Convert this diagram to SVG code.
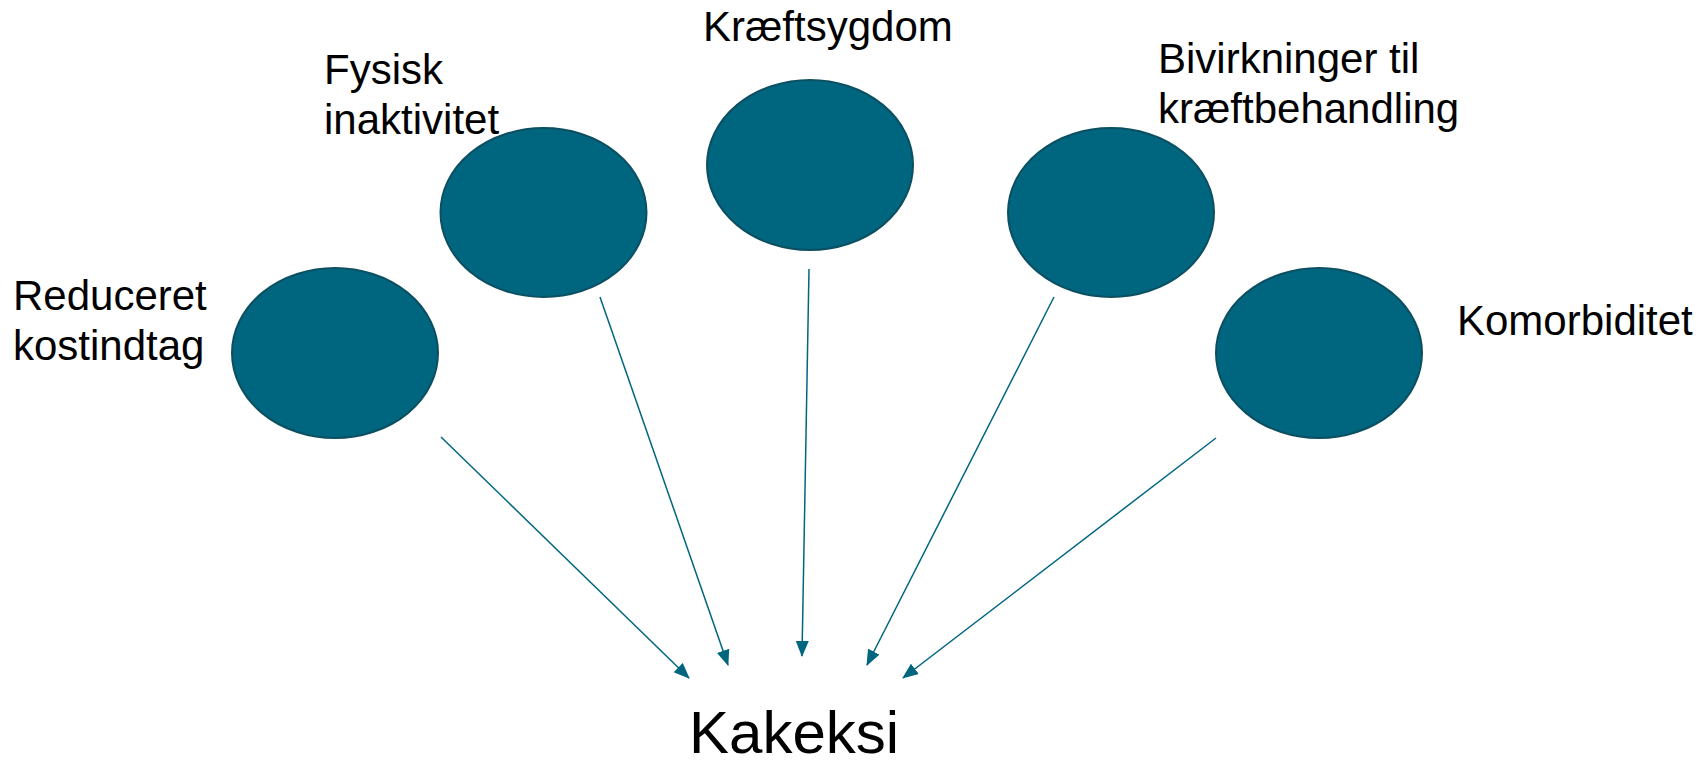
<svg xmlns="http://www.w3.org/2000/svg" width="1702" height="763" viewBox="0 0 1702 763">
<style>
.node{fill:#006680;stroke:#0b4f60;stroke-width:2}
.lbl{font-family:"Liberation Sans",Arial,sans-serif;font-size:42px;fill:#000}
.big{font-family:"Liberation Sans",Arial,sans-serif;font-size:60px;fill:#000}
.con{stroke:#006680;stroke-width:1.5;fill:none;marker-end:url(#arr)}
</style>
<defs>
<marker id="arr" markerUnits="userSpaceOnUse" markerWidth="16" markerHeight="14" refX="15" refY="6.5" orient="auto" viewBox="0 0 16 13">
<path d="M0,0 L16,6.5 L0,13 z" fill="#006680"/>
</marker>
</defs>
<rect width="1702" height="763" fill="#fff"/>
<g id="n1"><ellipse class="node" cx="335" cy="353" rx="103" ry="85"/><text class="lbl" x="13" y="310">Reduceret</text><text class="lbl" x="13" y="360">kostindtag</text></g>
<g id="n2"><ellipse class="node" cx="543.5" cy="212.5" rx="103" ry="84.5"/><text class="lbl" x="324" y="84">Fysisk</text><text class="lbl" x="324" y="134">inaktivitet</text></g>
<g id="n3"><ellipse class="node" cx="810" cy="165" rx="103" ry="85"/><text class="lbl" x="703" y="41">Kræftsygdom</text></g>
<g id="n4"><ellipse class="node" cx="1111" cy="212.5" rx="103" ry="84.5"/><text class="lbl" x="1158" y="73">Bivirkninger til</text><text class="lbl" x="1158" y="123">kræftbehandling</text></g>
<g id="n5"><ellipse class="node" cx="1319" cy="353" rx="103" ry="85"/><text class="lbl" x="1457" y="335">Komorbiditet</text></g>
<g id="target"><text class="big" x="689" y="753">Kakeksi</text></g>
<g id="connectors">
<line class="con" x1="441" y1="437" x2="689" y2="678"/>
<line class="con" x1="600" y1="297" x2="728" y2="665"/>
<line class="con" x1="809" y1="269" x2="802" y2="656"/>
<line class="con" x1="1054" y1="297" x2="867" y2="665"/>
<line class="con" x1="1216" y1="438" x2="903" y2="678"/>
</g>
</svg>
